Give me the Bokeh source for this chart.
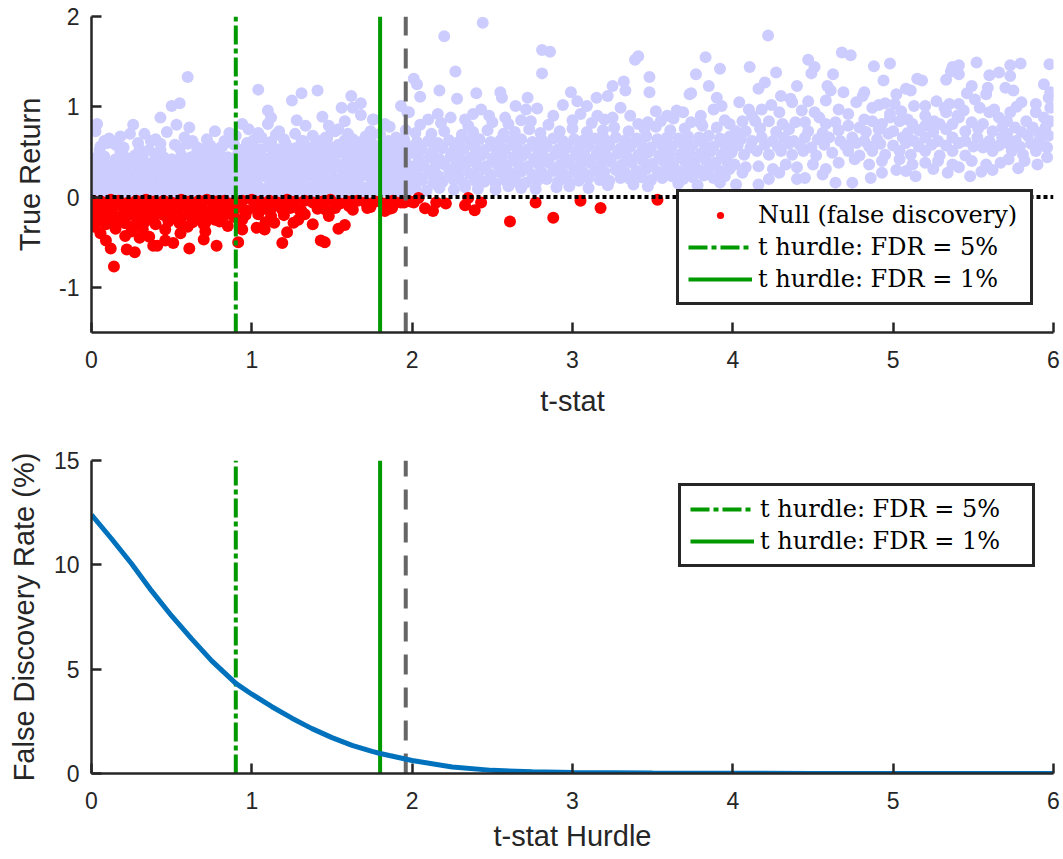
from bokeh.plotting import figure
from bokeh.layouts import column
from bokeh.models import Range1d, Legend, LegendItem, FixedTicker
from bokeh.embed import file_html
from bokeh.resources import INLINE

# ---------------- data ----------------
x_ticks = [0, 1, 2, 3, 4, 5, 6]
top_y_ticks = [-1, 0, 1, 2]
bot_y_ticks = [0, 5, 10, 15]
x_lo, x_hi = 0, 6
top_y_lo, top_y_hi = -1.5, 2
bot_y_lo, bot_y_hi = 0, 15

hurdle_fdr5 = 0.90
hurdle_fdr1 = 1.80
hurdle_conventional = 1.96

# Alternative (true) strategies: (t-stat, true return)
alt_low_r1 = [(0.01,0.04),(0.06,0.03),(0.11,0.05),(0.16,0.03),(0.22,0.04),(0.27,0.06),(0.32,0.03),(0.38,0.04),(0.43,0.05),(0.48,0.03),(0.54,0.04),(0.59,0.05),(0.64,0.03),(0.70,0.06),(0.75,0.04),(0.80,0.03),(0.86,0.05),(0.91,0.04),(0.96,0.03),(1.02,0.05),(1.07,0.04),(1.12,0.06),(1.18,0.03),(1.23,0.05),(1.28,0.04),(1.34,0.03),(1.39,0.06),(1.44,0.04),(1.50,0.05),(1.55,0.03),(1.60,0.04),(1.66,0.06),(1.71,0.05),(1.76,0.04),(1.82,0.07),(1.87,0.05),(1.93,0.06),(1.98,0.08)]
alt_low_r2 = [(0.03,0.12),(0.08,0.11),(0.14,0.13),(0.19,0.12),(0.24,0.10),(0.30,0.13),(0.35,0.12),(0.40,0.11),(0.46,0.14),(0.51,0.12),(0.56,0.13),(0.62,0.11),(0.67,0.12),(0.72,0.14),(0.78,0.12),(0.83,0.11),(0.88,0.13),(0.94,0.12),(0.99,0.14),(1.04,0.12),(1.10,0.11),(1.15,0.13),(1.20,0.12),(1.26,0.14),(1.31,0.13),(1.36,0.11),(1.42,0.12),(1.47,0.14),(1.52,0.13),(1.58,0.12),(1.63,0.14),(1.68,0.12),(1.74,0.13),(1.79,0.15),(1.85,0.13),(1.90,0.14),(1.95,0.12)]
alt_low_r3 = [(0.02,0.20),(0.07,0.21),(0.12,0.19),(0.17,0.20),(0.23,0.22),(0.28,0.19),(0.33,0.21),(0.39,0.20),(0.44,0.22),(0.49,0.19),(0.55,0.20),(0.60,0.21),(0.65,0.19),(0.71,0.22),(0.76,0.20),(0.81,0.21),(0.87,0.19),(0.92,0.22),(0.97,0.20),(1.03,0.21),(1.08,0.23),(1.13,0.20),(1.19,0.22),(1.24,0.21),(1.29,0.20),(1.35,0.23),(1.40,0.21),(1.45,0.22),(1.51,0.20),(1.56,0.23),(1.61,0.21),(1.67,0.22),(1.72,0.24),(1.77,0.21),(1.83,0.23),(1.88,0.22),(1.94,0.24),(1.99,0.23)]
alt_low_r4 = [(0.01,0.28),(0.06,0.29),(0.12,0.27),(0.17,0.30),(0.22,0.28),(0.28,0.27),(0.33,0.29),(0.38,0.28),(0.44,0.30),(0.49,0.27),(0.54,0.29),(0.60,0.28),(0.65,0.30),(0.70,0.28),(0.76,0.29),(0.81,0.27),(0.86,0.30),(0.92,0.29),(0.97,0.28),(1.02,0.30),(1.08,0.29),(1.13,0.31),(1.18,0.28),(1.24,0.30),(1.29,0.29),(1.34,0.31),(1.40,0.30),(1.45,0.28),(1.50,0.31),(1.56,0.30),(1.61,0.32),(1.66,0.29),(1.72,0.31),(1.77,0.30),(1.83,0.32),(1.88,0.31),(1.93,0.30),(1.98,0.33)]
alt_low_r5 = [(0.03,0.36),(0.09,0.35),(0.14,0.37),(0.20,0.36),(0.25,0.38),(0.31,0.35),(0.36,0.37),(0.41,0.36),(0.47,0.35),(0.52,0.38),(0.57,0.36),(0.63,0.37),(0.68,0.35),(0.73,0.38),(0.79,0.37),(0.84,0.36),(0.89,0.38),(0.95,0.37),(1.00,0.39),(1.05,0.36),(1.11,0.38),(1.16,0.37),(1.21,0.39),(1.27,0.38),(1.32,0.36),(1.37,0.39),(1.43,0.38),(1.48,0.40),(1.53,0.37),(1.59,0.39),(1.64,0.38),(1.69,0.40),(1.75,0.39),(1.80,0.41),(1.86,0.38),(1.91,0.40),(1.96,0.39)]
alt_low_r6 = [(0.02,0.43),(0.08,0.45),(0.15,0.42),(0.21,0.44),(0.27,0.46),(0.32,0.43),(0.40,0.45),(0.45,0.44),(0.50,0.42),(0.56,0.46),(0.62,0.44),(0.69,0.43),(0.74,0.45),(0.80,0.47),(0.85,0.44),(0.91,0.46),(0.97,0.45),(1.02,0.47),(1.07,0.44),(1.13,0.46),(1.18,0.48),(1.23,0.45),(1.29,0.47),(1.34,0.46),(1.39,0.48),(1.45,0.45),(1.50,0.47),(1.55,0.49),(1.61,0.46),(1.66,0.48),(1.71,0.47),(1.77,0.49),(1.82,0.48),(1.88,0.46),(1.93,0.50),(1.98,0.48)]
alt_low_r7 = [(0.05,0.52),(0.18,0.51),(0.30,0.53),(0.43,0.52),(0.55,0.54),(0.66,0.51),(0.78,0.53),(0.93,0.52),(0.99,0.55),(1.05,0.53),(1.10,0.56),(1.16,0.53),(1.22,0.55),(1.27,0.54),(1.33,0.57),(1.38,0.54),(1.44,0.56),(1.49,0.55),(1.54,0.58),(1.60,0.55),(1.65,0.57),(1.71,0.56),(1.76,0.58),(1.82,0.57),(1.87,0.55),(1.92,0.59),(1.97,0.57)]
alt_low_r8 = [(0.10,0.60),(0.37,0.62),(0.60,0.59),(0.85,0.61),(1.01,0.63),(1.12,0.61),(1.20,0.64),(1.31,0.62),(1.40,0.60),(1.47,0.65),(1.58,0.63),(1.68,0.61),(1.74,0.66),(1.85,0.62),(1.95,0.64)]
alt_low_fringe = [(0.035,0.81),(0.025,0.73),(0.11,0.65),(0.056,0.56),(0.15,0.58),(0.24,0.70),(0.26,0.80),(0.33,0.70),(0.43,0.88),(0.43,0.59),(0.47,0.72),(0.50,1.01),(0.55,1.04),(0.53,0.80),(0.60,1.33),(0.61,0.77),(0.63,0.62),(0.77,0.73),(0.815,0.56),(0.86,0.71),(0.94,0.81),(0.98,0.75),(1.04,1.19),(1.10,0.81),(1.10,0.96),(1.04,0.71),(1.17,0.73),(1.25,1.07),(1.31,1.15),(1.335,0.79),(1.41,1.18),(1.44,0.89),(1.50,0.73),(1.56,0.99),(1.62,1.12),(1.63,0.99),(1.68,1.04),(1.58,0.84),(1.68,0.91),(1.755,0.86),(1.63,0.64),(1.54,0.75),(1.74,0.73),(1.83,0.81),(1.93,1.01),(1.42,0.62),(1.32,0.62),(1.21,0.60),(0.97,0.60),(0.74,0.57),(0.69,0.53),(1.52,0.73),(1.76,0.86),(1.98,0.94),(0.20,0.55),(0.29,0.60),(0.36,0.52),(0.52,0.58),(0.58,0.66),(0.66,0.55),(0.72,0.64),(0.83,0.62),(0.89,0.58),(0.08,0.62),(0.18,0.67),(0.40,0.64),(1.06,0.66),(1.15,0.69),(1.27,0.70),(1.38,0.68),(1.46,0.66),(1.60,0.70),(1.71,0.67),(1.80,0.70),(1.90,0.66),(1.96,0.74),(1.86,0.78),(1.12,0.88),(0.90,0.68),(1.28,0.85),(1.48,0.79)]

alt_mid_r1 = [(2.02,0.09),(2.09,0.07),(2.17,0.10),(2.26,0.08),(2.33,0.11),(2.41,0.09),(2.52,0.08),(2.60,0.12),(2.68,0.10),(2.77,0.09),(2.90,0.11),(2.98,0.12),(3.10,0.10),(3.22,0.13),(3.38,0.14),(3.47,0.12),(3.66,0.15),(3.78,0.13),(3.92,0.16)]
alt_mid_r2 = [(2.00,0.16),(2.06,0.18),(2.13,0.15),(2.19,0.17),(2.26,0.19),(2.32,0.16),(2.39,0.18),(2.45,0.17),(2.52,0.15),(2.58,0.19),(2.65,0.17),(2.71,0.16),(2.78,0.18),(2.84,0.20),(2.91,0.17),(2.97,0.19),(3.04,0.18),(3.10,0.21),(3.17,0.19),(3.23,0.18),(3.30,0.21),(3.36,0.20),(3.43,0.22),(3.49,0.19),(3.56,0.21),(3.62,0.23),(3.69,0.20),(3.75,0.22),(3.82,0.24),(3.88,0.21),(3.95,0.23)]
alt_mid_r3 = [(2.03,0.25),(2.10,0.26),(2.16,0.24),(2.23,0.27),(2.29,0.25),(2.36,0.26),(2.42,0.28),(2.49,0.25),(2.55,0.27),(2.62,0.26),(2.68,0.28),(2.75,0.25),(2.81,0.27),(2.88,0.29),(2.94,0.26),(3.01,0.28),(3.07,0.27),(3.14,0.29),(3.20,0.28),(3.27,0.30),(3.33,0.27),(3.40,0.29),(3.46,0.31),(3.53,0.28),(3.59,0.30),(3.66,0.29),(3.72,0.31),(3.79,0.30),(3.85,0.32),(3.92,0.29),(3.98,0.31)]
alt_mid_r4 = [(2.01,0.34),(2.07,0.35),(2.14,0.33),(2.20,0.36),(2.27,0.34),(2.33,0.35),(2.40,0.37),(2.46,0.34),(2.53,0.36),(2.59,0.35),(2.66,0.37),(2.72,0.34),(2.79,0.36),(2.85,0.38),(2.92,0.35),(2.98,0.37),(3.05,0.36),(3.11,0.38),(3.18,0.37),(3.24,0.39),(3.31,0.36),(3.37,0.38),(3.44,0.40),(3.50,0.37),(3.57,0.39),(3.63,0.38),(3.70,0.40),(3.76,0.39),(3.83,0.41),(3.89,0.38),(3.96,0.40)]
alt_mid_r5 = [(2.04,0.43),(2.11,0.44),(2.17,0.42),(2.24,0.45),(2.30,0.43),(2.37,0.44),(2.43,0.46),(2.50,0.43),(2.56,0.45),(2.63,0.44),(2.69,0.46),(2.76,0.43),(2.82,0.45),(2.89,0.47),(2.95,0.44),(3.02,0.46),(3.08,0.45),(3.15,0.47),(3.21,0.46),(3.28,0.48),(3.34,0.45),(3.41,0.47),(3.47,0.49),(3.54,0.46),(3.60,0.48),(3.67,0.47),(3.73,0.49),(3.80,0.48),(3.86,0.50),(3.93,0.47),(3.99,0.49)]
alt_mid_r6 = [(2.00,0.52),(2.06,0.53),(2.13,0.51),(2.19,0.54),(2.26,0.52),(2.32,0.53),(2.39,0.55),(2.45,0.52),(2.52,0.54),(2.58,0.53),(2.65,0.55),(2.71,0.52),(2.78,0.54),(2.84,0.56),(2.91,0.53),(2.97,0.55),(3.04,0.54),(3.10,0.56),(3.17,0.55),(3.23,0.57),(3.30,0.54),(3.36,0.56),(3.43,0.58),(3.49,0.55),(3.56,0.57),(3.62,0.56),(3.69,0.58),(3.75,0.57),(3.82,0.59),(3.88,0.56),(3.95,0.58)]
alt_mid_r7 = [(2.03,0.61),(2.10,0.62),(2.16,0.60),(2.23,0.63),(2.29,0.61),(2.36,0.62),(2.42,0.64),(2.49,0.61),(2.55,0.63),(2.62,0.62),(2.68,0.64),(2.75,0.61),(2.81,0.63),(2.88,0.65),(2.94,0.62),(3.01,0.64),(3.07,0.63),(3.14,0.65),(3.20,0.64),(3.27,0.66),(3.33,0.63),(3.40,0.65),(3.46,0.67),(3.53,0.64),(3.59,0.66),(3.66,0.65),(3.72,0.67),(3.79,0.66),(3.85,0.68),(3.92,0.65),(3.98,0.67)]
alt_mid_r8 = [(2.02,0.71),(2.12,0.70),(2.20,0.73),(2.31,0.69),(2.38,0.72),(2.47,0.74),(2.57,0.70),(2.64,0.72),(2.73,0.75),(2.80,0.71),(2.92,0.73),(3.00,0.76),(3.09,0.72),(3.19,0.74),(3.26,0.77),(3.35,0.73),(3.45,0.75),(3.52,0.78),(3.61,0.74),(3.70,0.76),(3.81,0.79),(3.90,0.77)]
alt_mid_r9 = [(2.05,0.80),(2.18,0.82),(2.35,0.79),(2.50,0.83),(2.60,0.81),(2.74,0.84),(2.85,0.80),(3.00,0.85),(3.12,0.82),(3.20,0.86),(3.41,0.81),(3.55,0.84),(3.63,0.87),(3.80,0.82),(3.95,0.85)]
alt_mid_fringe = [(2.01,1.31),(2.03,1.25),(2.05,1.11),(2.17,1.18),(2.20,1.78),(2.27,1.39),(2.28,1.09),(2.40,1.15),(2.44,1.93),(2.55,1.16),(2.56,1.10),(2.72,1.10),(2.81,1.63),(2.86,1.61),(2.81,1.37),(2.99,1.16),(3.15,1.10),(3.25,1.23),(3.32,1.28),(3.33,1.18),(3.39,1.52),(3.41,1.56),(3.48,1.33),(3.48,1.16),(3.22,1.12),(3.73,1.14),(3.77,1.36),(3.83,1.55),(3.92,1.42),(3.85,1.23),(3.74,1.15),(3.90,1.10),(1.97,0.94),(2.16,0.92),(2.24,0.88),(2.33,0.86),(2.43,0.97),(2.48,0.90),(2.645,1.01),(2.71,0.97),(2.78,0.98),(2.88,0.90),(2.94,1.02),(3.03,1.06),(3.09,1.01),(3.155,0.90),(3.30,0.99),(3.36,0.90),(3.47,0.83),(3.59,0.90),(3.65,0.96),(3.69,0.94),(3.74,0.83),(3.88,0.97),(3.93,1.01),(2.10,0.86),(2.38,0.92),(2.58,0.88),(2.68,0.85),(3.05,0.92),(3.25,0.88),(3.52,0.95),(3.80,0.90)]

alt_high_upper = [(4.105,1.44),(4.27,1.38),(4.47,1.52),(4.51,1.44),(4.49,1.37),(4.625,1.36),(4.68,1.60),(4.735,1.57),(4.88,1.45),(4.98,1.48),(4.94,1.29),(4.40,1.23),(4.20,1.27),(4.16,1.20),(5.37,1.44),(5.41,1.46),(5.52,1.49),(5.41,1.36),(5.36,1.39),(5.60,1.35),(5.66,1.38),(5.73,1.46),(5.795,1.48),(5.975,1.47),(5.73,1.34),(5.33,1.30),(5.49,1.23),(5.15,1.31),(5.18,1.29),(5.11,1.18),(5.94,1.25),(5.70,1.21),(5.75,1.18),(5.98,1.16),(5.97,1.10),(5.46,1.15),(5.58,1.14),(5.59,1.21),(4.22,1.79)]
alt_high_mid = [(4.30,1.12),(4.36,1.09),(4.59,1.23),(4.61,1.18),(4.69,1.16),(4.82,1.16),(4.58,1.07),(4.66,0.97),(4.77,1.05),(4.81,1.12),(5.02,1.14),(5.08,1.20),(5.01,1.03),(4.91,1.02),(4.95,1.04),(5.13,1.01),(5.20,1.01),(5.32,0.99),(5.35,1.03),(5.41,1.03),(5.44,0.96),(5.33,0.94),(5.54,0.99),(5.63,0.97),(5.66,0.88),(5.73,0.94),(5.80,1.05),(5.89,1.03),(5.89,0.94),(5.98,0.99),(5.98,0.84),(4.04,1.05),(4.10,0.97),(4.18,0.97),(4.29,0.94),(4.37,1.05),(4.43,0.96),(4.51,0.94),(4.45,0.83),(4.82,0.86),(4.87,0.99),(5.09,0.86),(5.20,0.90),(5.255,0.84),(5.49,0.83),(5.60,0.94),(5.56,0.81),(5.71,0.84),(5.83,0.84),(5.94,0.88)]
alt_high_core = [(3.98,0.81),(4.02,0.73),(4.06,0.84),(4.14,0.84),(4.225,0.84),(4.31,0.81),(4.39,0.83),(4.54,0.88),(4.58,0.81),(4.64,0.83),(4.72,0.79),(4.79,0.77),(4.87,0.84),(4.93,0.81),(4.98,0.88),(5.04,0.84),(5.12,0.81),(5.20,0.79),(5.29,0.81),(5.37,0.81),(5.41,0.88),(5.45,0.73),(5.62,0.73),(5.68,0.77),(5.76,0.77),(5.87,0.77),(5.95,0.77),
                 (3.985,0.62),(4.05,0.64),(4.12,0.62),(4.18,0.66),(4.25,0.62),(4.32,0.66),(4.38,0.62),(4.45,0.66),(4.53,0.64),(4.60,0.66),(4.67,0.62),(4.745,0.66),(4.82,0.62),(4.90,0.64),(4.97,0.70),(5.06,0.66),(5.13,0.62),(5.20,0.66),(5.28,0.62),(5.37,0.66),(5.45,0.62),(5.525,0.66),(5.60,0.62),(5.68,0.66),(5.765,0.62),(5.84,0.68),(5.91,0.62),(5.97,0.68),
                 (3.995,0.51),(4.07,0.47),(4.15,0.51),(4.225,0.47),(4.30,0.51),(4.37,0.47),(4.44,0.51),(4.52,0.46),(4.62,0.49),(4.72,0.51),(4.79,0.46),(4.87,0.51),(4.95,0.47),(5.04,0.51),(5.11,0.47),(5.20,0.51),(5.29,0.46),(5.37,0.51),(5.45,0.46),(5.56,0.55),(5.62,0.51),(5.74,0.51),(5.81,0.47),(5.89,0.51),(5.96,0.55)]
alt_high_low = [(4.01,0.36),(4.08,0.33),(4.16,0.34),(4.25,0.31),(4.33,0.36),(4.40,0.33),(4.50,0.36),(4.58,0.31),(4.66,0.38),(4.76,0.42),(4.85,0.36),(4.93,0.40),(5.04,0.42),(5.12,0.36),(5.20,0.38),(5.37,0.36),(5.41,0.33),(5.49,0.40),(5.67,0.38),(5.72,0.42),(5.82,0.40),(5.96,0.44),(5.28,0.40),(5.58,0.36),
                (4.02,0.14),(4.16,0.14),(4.06,0.27),(4.225,0.20),(4.40,0.20),(4.45,0.21),(4.64,0.16),(4.745,0.16),(4.86,0.21),(4.93,0.27),(5.08,0.29),(5.14,0.23),(5.34,0.27),(5.48,0.23),(4.29,0.27),(4.56,0.25),(5.25,0.31),(5.62,0.30),(5.78,0.32),(5.90,0.36),(5.55,0.28),(5.02,0.30)]
alt_high_extra = [(4.03,0.57),(4.11,0.55),(4.20,0.58),(4.28,0.56),(4.35,0.59),(4.42,0.57),(4.49,0.55),(4.57,0.58),(4.70,0.57),(4.77,0.60),(4.85,0.56),(4.92,0.59),(5.00,0.57),(5.08,0.60),(5.16,0.56),(5.24,0.58),(5.33,0.57),(5.41,0.60),(5.50,0.56),(5.58,0.59),(5.66,0.57),(5.71,0.60),(5.79,0.56),(5.86,0.59),(5.93,0.57),
                  (4.08,0.73),(4.17,0.76),(4.27,0.72),(4.35,0.75),(4.47,0.73),(4.56,0.71),(4.66,0.74),(4.83,0.72),(4.91,0.75),(5.00,0.73),(5.09,0.71),(5.16,0.74),(5.25,0.72),(5.33,0.75),(5.53,0.76),(5.71,0.70),(5.80,0.72),(5.91,0.71),
                  (4.24,1.02),(4.47,1.06),(4.72,0.92),(5.05,0.95),(5.27,1.06),(5.51,1.08),(5.77,1.00),(4.12,0.90),(4.98,0.92),(5.40,0.90)]

# Null strategies (false discoveries): (t-stat, true return)
null_r1 = [(0.01,-0.04),(0.06,-0.05),(0.12,-0.03),(0.17,-0.04),(0.23,-0.06),(0.28,-0.04),(0.34,-0.03),(0.39,-0.05),(0.45,-0.04),(0.50,-0.06),(0.56,-0.03),(0.61,-0.05),(0.67,-0.04),(0.72,-0.03),(0.78,-0.05),(0.83,-0.04),(0.89,-0.06),(0.94,-0.04),(1.00,-0.03),(1.05,-0.05),(1.11,-0.04),(1.16,-0.06),(1.22,-0.03),(1.27,-0.05),(1.33,-0.04),(1.38,-0.06),(1.44,-0.05),(1.49,-0.03),(1.55,-0.07),(1.60,-0.05),(1.66,-0.04),(1.71,-0.06),(1.77,-0.05),(1.82,-0.07),(1.88,-0.04),(1.93,-0.06),(1.99,-0.05)]
null_r2 = [(0.03,-0.12),(0.09,-0.13),(0.14,-0.11),(0.20,-0.12),(0.25,-0.14),(0.31,-0.12),(0.36,-0.11),(0.42,-0.13),(0.47,-0.12),(0.53,-0.14),(0.58,-0.11),(0.64,-0.13),(0.69,-0.12),(0.75,-0.14),(0.80,-0.11),(0.86,-0.13),(0.91,-0.12),(0.97,-0.15),(1.02,-0.12),(1.08,-0.13),(1.13,-0.11),(1.19,-0.14),(1.24,-0.12),(1.30,-0.15),(1.41,-0.13),(1.52,-0.12),(1.63,-0.14),(1.74,-0.11),(1.86,-0.13)]
null_r3 = [(0.01,-0.20),(0.06,-0.21),(0.12,-0.19),(0.17,-0.22),(0.23,-0.20),(0.28,-0.21),(0.34,-0.19),(0.39,-0.22),(0.45,-0.20),(0.50,-0.21),(0.56,-0.23),(0.61,-0.20),(0.67,-0.22),(0.72,-0.19),(0.78,-0.21),(0.83,-0.20),(0.89,-0.22),(0.96,-0.20),(1.04,-0.19),(1.12,-0.21),(1.20,-0.20),(1.33,-0.19),(1.48,-0.21)]
null_r4 = [(0.03,-0.28),(0.09,-0.30),(0.15,-0.27),(0.21,-0.29),(0.27,-0.31),(0.33,-0.28),(0.40,-0.30),(0.48,-0.27),(0.55,-0.29),(0.63,-0.28),(0.70,-0.30),(0.80,-0.27),(0.93,-0.26)]
null_scatter = [(0.14,-0.77),(0.27,-0.61),(0.22,-0.58),(0.12,-0.57),(0.385,-0.54),(0.41,-0.54),(0.51,-0.51),(0.61,-0.57),(0.78,-0.54),(0.70,-0.47),(0.46,-0.48),(0.36,-0.44),(0.30,-0.45),(0.21,-0.43),(0.09,-0.48),(0.915,-0.50),(1.19,-0.51),(1.43,-0.48),(1.455,-0.50),(1.22,-0.39),(1.54,-0.35),(1.58,-0.31),(1.38,-0.30),(1.08,-0.36),(1.03,-0.34),(0.94,-0.36),(0.71,-0.38),(0.555,-0.40),(0.46,-0.36),(0.32,-0.36),(0.056,-0.40),(1.29,-0.25),(1.26,-0.285),(1.72,-0.12),(1.83,-0.10),(1.95,-0.06),(1.605,-0.10),(1.46,-0.14),(1.31,-0.155),(1.14,-0.285),(1.085,-0.28),(0.94,-0.25),(0.77,-0.25),(0.71,-0.285),(2.61,-0.27),(2.88,-0.23),(3.175,-0.12),(3.05,-0.04),(2.77,-0.06),(3.53,-0.03),(2.39,-0.145),(2.43,-0.06),(2.33,-0.09),(2.35,-0.01),(2.21,-0.07),(2.13,-0.155),(2.08,-0.125),(2.15,-0.06),(2.01,-0.06),(1.875,-0.12),(1.83,-0.155),(2.04,-0.01),(1.62,-0.08),(0.15,-0.35),(0.25,-0.38),(0.60,-0.33),(0.85,-0.32),(0.02,-0.33),(0.08,-0.25)]

# False discovery rate (%) vs t-stat hurdle
fdr_t = [0.0, 0.125, 0.25, 0.375, 0.5, 0.625, 0.75, 0.9, 1.0, 1.125, 1.25, 1.375, 1.5, 1.625, 1.75, 1.8, 2.0, 2.25, 2.5, 2.75, 3.0, 3.5, 4.0, 4.5, 5.0, 5.5, 6.0]
fdr_v = [12.4, 11.25, 10.05, 8.75, 7.55, 6.45, 5.4, 4.32, 3.8, 3.2, 2.65, 2.15, 1.72, 1.35, 1.06, 0.96, 0.62, 0.31, 0.15, 0.08, 0.05, 0.02, 0.01, 0.0, 0.0, 0.0, 0.0]

# ---------------- styling helpers ----------------
AX = "#262626"
LAV = "#CCCCFF"
GREEN = "#009900"
GRAY = "#666666"
BLUE = "#0072BD"
DOT = 12


def unzip(*groups):
    xs, ys = [], []
    for g in groups:
        for t, r in g:
            xs.append(t)
            ys.append(r)
    return xs, ys


def style(p, xlabel, ylabel, yticks, ylab_standoff, xlab_standoff):
    p.outline_line_color = None
    p.xgrid.visible = False
    p.ygrid.visible = False
    p.background_fill_color = "white"
    p.border_fill_color = "white"
    p.xaxis.ticker = FixedTicker(ticks=x_ticks)
    p.yaxis.ticker = FixedTicker(ticks=yticks)
    p.yaxis.major_label_overrides = {v: str(v) for v in yticks}
    p.xaxis.axis_label = xlabel
    p.yaxis.axis_label = ylabel
    for ax in p.axis:
        ax.axis_line_width = 2.5
        ax.axis_line_color = AX
        ax.major_tick_line_width = 2.5
        ax.major_tick_line_color = AX
        ax.major_tick_in = 10
        ax.major_tick_out = 0
        ax.minor_tick_line_color = None
        ax.major_label_text_font = "Liberation Sans"
        ax.major_label_text_font_size = "23px"
        ax.major_label_text_color = AX
        ax.axis_label_text_font = "Liberation Sans"
        ax.axis_label_text_font_size = "29px"
        ax.axis_label_text_font_style = "normal"
        ax.axis_label_text_color = AX
    p.xaxis.major_label_standoff = 18
    p.xaxis.axis_label_standoff = xlab_standoff
    p.yaxis.major_label_standoff = 12
    p.yaxis.axis_label_standoff = ylab_standoff


def make_legend(items, loc):
    lg = Legend(items=items, location=loc)
    lg.label_text_font = "DejaVu Serif"
    lg.label_text_font_size = "24px"
    lg.label_text_color = "black"
    lg.label_width = 263
    lg.label_height = 28
    lg.glyph_width = 64
    lg.glyph_height = 18
    lg.label_standoff = 6
    lg.spacing = 4
    lg.padding = 9
    lg.margin = 0
    lg.border_line_color = AX
    lg.border_line_alpha = 1.0
    lg.border_line_width = 3
    lg.background_fill_color = "white"
    lg.background_fill_alpha = 1.0
    return lg


# ---------------- top panel ----------------
p1 = figure(width=1063, height=430, x_range=Range1d(x_lo, x_hi), y_range=Range1d(top_y_lo, top_y_hi),
            output_backend="svg", toolbar_location=None,
            min_border_left=91, min_border_right=10, min_border_top=16, min_border_bottom=98)
style(p1, "t-stat", "True Return", top_y_ticks, 10, 14)

ax_, ay_ = unzip(alt_low_r1, alt_low_r2, alt_low_r3, alt_low_r4, alt_low_r5, alt_low_r6, alt_low_r7, alt_low_r8,
                 alt_low_fringe, alt_mid_r1, alt_mid_r2, alt_mid_r3, alt_mid_r4, alt_mid_r5, alt_mid_r6,
                 alt_mid_r7, alt_mid_r8, alt_mid_r9, alt_mid_fringe, alt_high_upper, alt_high_mid,
                 alt_high_core, alt_high_low, alt_high_extra)
nx_, ny_ = unzip(null_r1, null_r2, null_r3, null_r4, null_scatter)

p1.scatter(ax_, ay_, size=DOT, fill_color=LAV, line_color=None)
r_null = p1.scatter(nx_, ny_, size=DOT, fill_color="#FF0000", line_color=None)
p1.line([x_lo, x_hi], [0, 0], line_color="black", line_width=4, line_dash="4 3")
p1.line([hurdle_conventional] * 2, [top_y_lo, top_y_hi], line_color=GRAY, line_width=4, line_dash="20 13")
r5a = p1.line([hurdle_fdr5] * 2, [top_y_lo, top_y_hi], line_color=GREEN, line_width=4, line_dash="19 4 5 4")
r1a = p1.line([hurdle_fdr1] * 2, [top_y_lo, top_y_hi], line_color=GREEN, line_width=4)

p1.add_layout(make_legend([
    LegendItem(label="Null (false discovery)", renderers=[r_null]),
    LegendItem(label="t hurdle: FDR = 5%", renderers=[r5a]),
    LegendItem(label="t hurdle: FDR = 1%", renderers=[r1a]),
], (585, 27)))

# ---------------- bottom panel ----------------
p2 = figure(width=1063, height=429, x_range=Range1d(x_lo, x_hi), y_range=Range1d(bot_y_lo, bot_y_hi),
            output_backend="svg", toolbar_location=None,
            min_border_left=91, min_border_right=10, min_border_top=30, min_border_bottom=86)
style(p2, "t-stat Hurdle", "False Discovery Rate (%)", bot_y_ticks, 11, 8)

p2.line([hurdle_conventional] * 2, [bot_y_lo, bot_y_hi], line_color=GRAY, line_width=4, line_dash="20 13")
r5b = p2.line([hurdle_fdr5] * 2, [bot_y_lo, bot_y_hi], line_color=GREEN, line_width=4, line_dash="19 4 5 4")
r1b = p2.line([hurdle_fdr1] * 2, [bot_y_lo, bot_y_hi], line_color=GREEN, line_width=4)
p2.line(fdr_t, fdr_v, line_color=BLUE, line_width=5)

p2.add_layout(make_legend([
    LegendItem(label="t hurdle: FDR = 5%", renderers=[r5b]),
    LegendItem(label="t hurdle: FDR = 1%", renderers=[r1b]),
], (587, 206)))

layout = column(p1, p2, spacing=0)
open("out.html", "w").write(file_html(layout, INLINE))
